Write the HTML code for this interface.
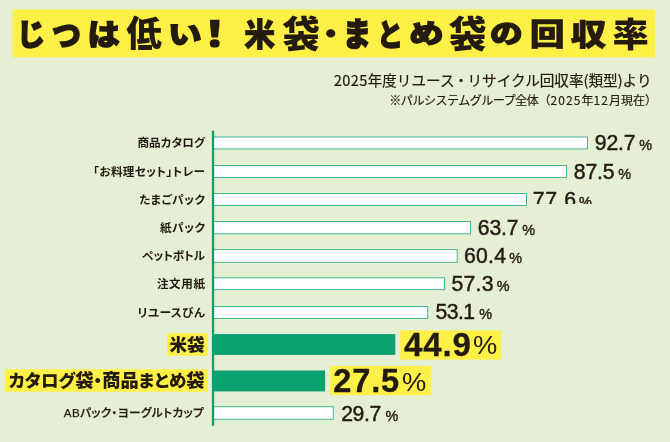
<!DOCTYPE html>
<html lang="ja"><head><meta charset="utf-8"><title>じつは低い！ 米袋・まとめ袋の回収率</title>
<style>
html,body{margin:0;padding:0;}
body{width:670px;height:442px;overflow:hidden;background:#e5efd3;position:relative;color:#231a10;
 font-family:"Liberation Sans","Noto Sans CJK JP",sans-serif;}
.abs{position:absolute;white-space:nowrap;}
.tc{position:absolute;left:0;top:0;white-space:nowrap;transform-origin:0 0;
 font-family:"Noto Sans CJK JP","Liberation Sans",sans-serif;font-weight:900;color:#231a10;-webkit-text-stroke:0.045em #231a10;}
.sub1{right:18.5px;top:68.5px;font-size:14.6px;line-height:22px;font-weight:400;-webkit-text-stroke:0.2px #231a10;font-family:"Noto Sans CJK JP","Liberation Sans",sans-serif;}
.sub2{right:13px;top:91px;font-size:12px;line-height:18px;font-weight:400;-webkit-text-stroke:0.15px #231a10;font-family:"Noto Sans CJK JP","Liberation Sans",sans-serif;}
.d1{letter-spacing:0.35px;}.dot{margin:0 -0.8px;}.k{letter-spacing:-0.45px;}.d2{letter-spacing:1.1px;}
.lab{position:absolute;right:465px;white-space:nowrap;font-weight:700;font-size:11.6px;line-height:16px;letter-spacing:0px;font-feature-settings:"palt";}
.val{position:absolute;white-space:nowrap;font-size:21.2px;line-height:22px;font-weight:400;letter-spacing:0px;-webkit-text-stroke:0.45px #231a10;}
.val small{font-size:14.4px;margin-left:3.5px;letter-spacing:0;-webkit-text-stroke:0.4px #231a10;}
.g{fill:#0aa070;stroke:none;}
.blab b{font-weight:900;font-size:18.2px;}
.blab{position:absolute;right:465.5px;white-space:nowrap;font-weight:900;font-size:17.5px;letter-spacing:0px;font-feature-settings:"palt";}
.bval{position:absolute;white-space:nowrap;font-weight:700;font-size:32.6px;line-height:34px;letter-spacing:0.8px;-webkit-text-stroke:0.3px #231a10;transform-origin:0 50%;}
.bpct{position:absolute;white-space:nowrap;font-weight:400;font-size:25.5px;line-height:30px;transform-origin:0 50%;transform:scaleX(1.07);}
.clip{position:absolute;left:0;top:0;width:670px;height:204px;overflow:hidden;}
</style></head><body>

<svg class="abs" style="left:0;top:0" width="670" height="442" viewBox="0 0 670 442"><g fill="#fff048"><rect x="12.55" y="9.5" width="642.4" height="47.9"/><rect x="167" y="333.2" width="40.9" height="22.5"/><rect x="400.2" y="330.4" width="100.9" height="29.2"/><rect x="4.9" y="369.2" width="203" height="22.5"/><rect x="329.9" y="366" width="101.3" height="29.2"/></g><g fill="#fff" stroke="#45b690" stroke-width="1"><rect x="213" y="137.0" width="374.5" height="11.9"/><rect x="213" y="165.5" width="353.5" height="12.0"/><rect x="213" y="193.5" width="313.5" height="12.0"/><rect x="213" y="221.5" width="257.5" height="12.3"/><rect x="213" y="249.6" width="244.2" height="12.7"/><rect x="213" y="277.8" width="231.6" height="11.8"/><rect x="213" y="306.5" width="214.7" height="12.0"/><rect class="g" x="213" y="334.1" width="182.3" height="20.8"/><rect class="g" x="213" y="370.5" width="112.1" height="20.9"/><rect x="213" y="406.7" width="120.3" height="12.6"/><rect class="g" x="211.9" y="130.7" width="2.3" height="295.05"/></g></svg>
<div class="title">
<span class="tc" style="font-size:29.46px;line-height:29.46px;-webkit-text-stroke-width:0.045em;transform:translate(16.91px,17.77px) scaleX(0.9626)">じ</span>
<span class="tc" style="font-size:30.8px;line-height:30.8px;-webkit-text-stroke-width:0.045em;transform:translate(51.94px,17.93px) scaleX(0.9398)">つ</span>
<span class="tc" style="font-size:29.34px;line-height:29.34px;-webkit-text-stroke-width:0.045em;transform:translate(87.46px,17.78px) scaleX(1.1022)">は</span>
<span class="tc" style="font-size:35.89px;line-height:35.89px;-webkit-text-stroke-width:0.0em;transform:translate(126.34px,13.92px) scaleX(0.9906)">低</span>
<span class="tc" style="font-size:26.62px;line-height:26.62px;-webkit-text-stroke-width:0.045em;transform:translate(168.08px,20.22px) scaleX(1.2671)">い</span>
<span class="tc" style="font-size:33.63px;line-height:33.63px;-webkit-text-stroke-width:0.045em;transform:translate(194.8px,15.15px) scaleX(1.1896)">！</span>
<span class="tc" style="font-size:31.73px;line-height:31.73px;-webkit-text-stroke-width:0.022em;transform:translate(244.36px,16.81px) scaleX(0.9768)">米</span>
<span class="tc" style="font-size:37.29px;line-height:37.29px;-webkit-text-stroke-width:0.0em;transform:translate(282.54px,14.09px) scaleX(0.998)">袋</span>
<span class="tc" style="font-size:25.94px;line-height:25.94px;-webkit-text-stroke-width:0.045em;transform:translate(316.42px,19.41px) scaleX(1.0964)">・</span>
<span class="tc" style="font-size:33.3px;line-height:33.3px;-webkit-text-stroke-width:0.045em;transform:translate(342.87px,15.24px) scaleX(0.8548)">ま</span>
<span class="tc" style="font-size:30.87px;line-height:30.87px;-webkit-text-stroke-width:0.045em;transform:translate(377.37px,18.1px) scaleX(0.8361)">と</span>
<span class="tc" style="font-size:26.41px;line-height:26.41px;-webkit-text-stroke-width:0.045em;transform:translate(409.3px,19.14px) scaleX(1.2986)">め</span>
<span class="tc" style="font-size:37.29px;line-height:37.29px;-webkit-text-stroke-width:0.0em;transform:translate(449.1px,14.09px) scaleX(1.0007)">袋</span>
<span class="tc" style="font-size:26.16px;line-height:26.16px;-webkit-text-stroke-width:0.045em;transform:translate(490.09px,19.29px) scaleX(1.2494)">の</span>
<span class="tc" style="font-size:30.21px;line-height:30.21px;-webkit-text-stroke-width:0.022em;transform:translate(529.84px,17.19px) scaleX(1.1549)">回</span>
<span class="tc" style="font-size:29.9px;line-height:29.9px;-webkit-text-stroke-width:0.022em;transform:translate(570.71px,17.95px) scaleX(1.1927)">収</span>
<span class="tc" style="font-size:34.27px;line-height:34.27px;-webkit-text-stroke-width:0.0em;transform:translate(612.51px,14.71px) scaleX(1.0605)">率</span>
</div>
<div class="abs sub1"><span class="d1">2025</span>年度リユース<span class="dot">・</span>リサイクル回収率(類型)より</div>
<div class="abs sub2"><span class="k">※パルシステムグループ全体</span>（<span class="d2">2025</span>年<span class="d2">12</span>月現在）</div>
<div class="lab" style="top:135.1px;letter-spacing:0.05px;margin-right:-0.05px">商品カタログ</div>
<div class="val" style="left:594.8px;top:132.4px;letter-spacing:-0.15px">92.7<small style="margin-left:3.8px">%</small></div>
<div class="lab" style="top:163.6px;letter-spacing:0.35px;margin-right:-0.35px">「お料理セット」トレー</div>
<div class="val" style="left:573.8px;top:160.9px;letter-spacing:-0.15px">87.5<small style="margin-left:3.8px">%</small></div>
<div class="lab" style="top:191.8px;letter-spacing:0.55px;margin-right:-0.55px">たまごパック</div>
<div class="clip"><div class="val" style="left:532.8px;top:189.1px;letter-spacing:0.7px">77.6<small style="margin-left:2.1px">%</small></div></div>
<div class="lab" style="top:219.8px;letter-spacing:0.55px;margin-right:-0.55px">紙パック</div>
<div class="val" style="left:477.8px;top:217.1px;letter-spacing:-0.15px">63.7<small style="margin-left:3.8px">%</small></div>
<div class="lab" style="top:247.5px;letter-spacing:-0.1px;margin-right:0.1px">ペットボトル</div>
<div class="val" style="left:463.9px;top:245.4px;letter-spacing:0.3px">60.4<small style="margin-left:2.9px">%</small></div>
<div class="lab" style="top:276.4px;letter-spacing:0.55px;margin-right:-0.55px">注文用紙</div>
<div class="val" style="left:451.4px;top:273.1px;letter-spacing:0.3px">57.3<small style="margin-left:2.9px">%</small></div>
<div class="lab" style="top:304.9px;letter-spacing:0.55px;margin-right:-0.55px">リユースびん</div>
<div class="val" style="left:435.4px;top:301.0px;letter-spacing:-0.5px">53.1<small style="margin-left:4.5px">%</small></div>
<div class="blab" style="top:333.7px;line-height:22.4px">米袋</div>
<div class="bval" style="left:404.2px;top:327.8px;transform:scaleX(1.015)">44.9</div>
<div class="bpct" style="left:472.7px;top:330.4px">%</div>
<div class="blab" style="top:370.1px;line-height:22px;letter-spacing:0px;margin-right:0px">カタログ<b>袋</b>・<b>商品</b>まとめ<b>袋</b></div>
<div class="bval" style="left:333.3px;top:363.9px;transform:scaleX(1.0)">27.5</div>
<div class="bpct" style="left:402.1px;top:367.1px">%</div>
<div class="lab" style="top:405.2px;font-weight:500;-webkit-text-stroke:0.25px #231a10;letter-spacing:0.4px;margin-right:0.8px">ABパック・ヨーグルトカップ</div>
<div class="val" style="left:341.2px;top:402.8px;letter-spacing:-0.4px">29.7<small style="margin-left:4.6px">%</small></div>
</body></html>
